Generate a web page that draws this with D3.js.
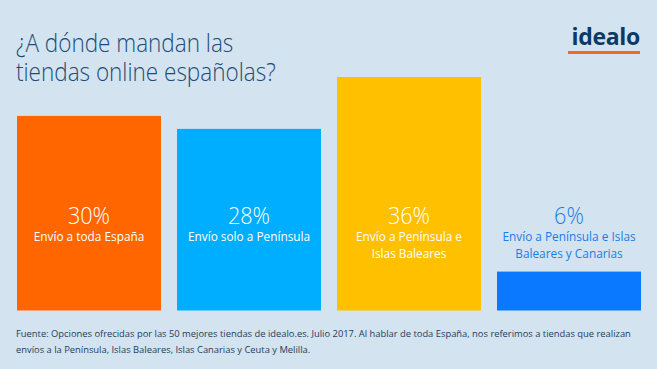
<!DOCTYPE html>
<html><head><meta charset="utf-8">
<script src="https://cdn.jsdelivr.net/npm/d3@7"></script>
<style>
html,body{margin:0;padding:0;background:#d3e3f0;}
svg{display:block;font-family:"Open Sans",sans-serif;}
</style></head>
<body>
<svg id="c" width="657" height="369"></svg>
<script>
const categories = ["Envío a toda España","Envío solo a Península","Envío a Península e Islas Baleares","Envío a Península e Islas Baleares y Canarias"];
const values = [30, 28, 36, 6];
const labelLines = [["Envío a toda España"],["Envío solo a Península"],["Envío a Península e","Islas Baleares"],["Envío a Península e Islas","Baleares y Canarias"]];
const colors = ["#ff6600","#00aeff","#ffc000","#0a78ff"];
const titleLines = ["¿A dónde mandan las","tiendas online españolas?"];
const footLines = ["Fuente: Opciones ofrecidas por las 50 mejores tiendas de idealo.es. Julio 2017. Al hablar de toda España, nos referimos a tiendas que realizan","envíos a la Península, Islas Baleares, Islas Canarias y Ceuta y Melilla."];

const svg = d3.select("#c");
svg.append("rect").attr("width",657).attr("height",369).attr("fill","#d3e3f0");

// horizontally condense text (reference font is narrower)
function condense(sel, f){
  sel.each(function(){
    const w = this.getComputedTextLength();
    d3.select(this).attr("textLength", w*f).attr("lengthAdjust","spacingAndGlyphs");
  });
}

const x = d3.scaleBand().domain(categories).range([17,641]).paddingInner(0.1).paddingOuter(0);
const y = d3.scaleLinear().domain([0,36]).range([310.5,77]);

svg.selectAll("rect.bar").data(values).join("rect").attr("class","bar")
  .attr("x",(d,i)=>x(categories[i])).attr("width",x.bandwidth())
  .attr("y",d=>y(d)).attr("height",d=>y(0)-y(d))
  .attr("fill",(d,i)=>colors[i]);

const g = svg.selectAll("g.lab").data(values).join("g").attr("class","lab")
  .attr("transform",(d,i)=>`translate(${x(categories[i])+x.bandwidth()/2},0)`);
const pct = g.append("text").attr("y",224).attr("text-anchor","middle")
  .attr("font-size",24).attr("font-weight",300)
  .attr("fill",(d,i)=>i===3?"#1a7de6":"#ffffff")
  .text(d=>d+"%");
condense(pct, 0.9);
g.each(function(d,i){
  const t = d3.select(this).selectAll("text.l").data(labelLines[i]).join("text").attr("class","l")
    .attr("y",(t,j)=>241+j*16.5).attr("text-anchor","middle")
    .attr("font-size",13).attr("fill",i===3?"#1a7de6":"#ffffff")
    .text(t=>t);
  condense(t, 0.91);
});

const tt = svg.selectAll("text.title").data(titleLines).join("text").attr("class","title")
  .attr("x",16).attr("y",(d,i)=>52+i*29).attr("font-size",25).attr("font-weight",300)
  .attr("fill","#1c4b78").text(d=>d);
condense(tt, 0.9);

svg.append("text").attr("x",640).attr("y",45).attr("text-anchor","end")
  .attr("font-size",23).attr("font-weight",700).attr("fill","#0b3a66")
  .attr("letter-spacing",-0.3).text("idealo");
svg.append("rect").attr("x",568).attr("y",51).attr("width",72).attr("height",3).attr("fill","#f26a1b");

const ft = svg.selectAll("text.foot").data(footLines).join("text").attr("class","foot")
  .attr("x",16).attr("y",(d,i)=>337+i*16).attr("font-size",9.5)
  .attr("fill","#1e3d5e").text(d=>d);
condense(ft, 0.985);
</script>
</body></html>
